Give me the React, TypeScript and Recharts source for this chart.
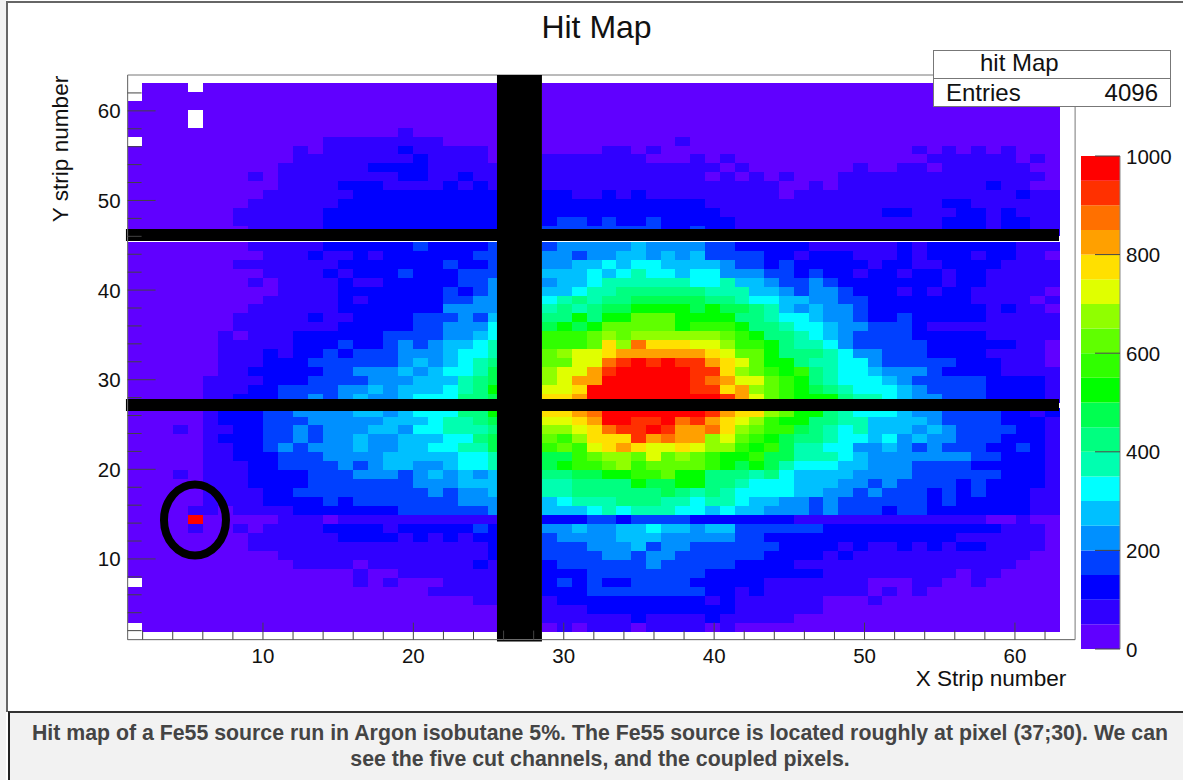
import React from "react";
import {
  Bar,
  BarChart,
  Label,
  ReferenceArea,
  ReferenceDot,
  Scatter,
  ScatterChart,
  XAxis,
  YAxis,
} from "recharts";

// Hit levels per strip, one char per column (0-9, a-j = 50-wide z bins, "." = empty).
// Columns 1-25 | 26-27 (cut) | 28-62, rows run from the top of each panel downwards.
const ROWS_TOP = [
  ".000. 00000 00000 00000 00000 .. 00000 00000 00000 00000 00000 00000 00000",
  ".0000 00000 00000 00000 00000 .. 00000 00000 00000 00000 00000 00000 00000",
  "00000 00000 00000 00000 00000 .. 00000 00000 00000 00000 00000 00000 00000",
  "0000. 00000 00000 00000 00000 .. 00000 00000 00000 00000 00000 00000 00000",
  "0000. 00000 00000 00000 00000 .. 00000 00000 00000 00000 00000 00000 00000",
  "00000 00000 00000 00010 00000 .. 00000 00000 00000 00000 00000 00000 00000",
  ".0000 00000 00011 11111 10000 .. 00000 00001 00000 00000 00000 00000 00000",
  "00000 00000 01011 11121 11110 .. 00001 10100 00000 00000 00000 10101 01000",
  "00000 00000 01111 11112 11110 .. 11111 11000 10100 00000 00000 01111 11010",
  "00000 00000 11111 12222 11111 .. 11111 11111 11010 00000 01001 10111 11100",
  "00000 00010 11111 11122 11211 .. 11111 11111 10101 01000 11111 11111 11110",
  "00000 00000 11112 22111 12121 .. 11111 11111 11111 10010 11111 11111 21100",
  "00000 00001 11111 22222 22222 .. 22112 12111 11111 10111 11111 11111 11211",
  "00000 00011 11112 22222 22222 .. 22222 22222 21111 11111 11111 11221 11111",
  "00000 00111 11122 22222 22222 .. 22222 22222 22111 11111 11122 11122 12111",
  "00000 00111 11122 22222 22222 .. 23323 22322 22211 11111 11111 11222 12211",
  "00000 00011 11122 22222 22222 .. 33333 33322 32211 11111 11111 11222 12211",
];

const ROWS_MIDDLE = [
  "..... ..... ..... ..... ..... .. ..... ..... ..... ..... ..... ..... .....",
  "00000 00011 11122 22223 22223 .. 34444 45444 43322 22211 11112 12222 22111",
  "00000 00001 11211 21222 22233 .. 44344 55454 53333 22122 21112 12221 22110",
  "00000 00111 11112 22222 23223 .. 44556 56655 55433 23222 22122 11222 21111",
  "00000 00001 11121 22232 22333 .. 55565 67665 66444 33232 21221 22122 11111",
  "00000 00010 11112 11222 22334 .. 45567 77777 66755 43343 22222 22122 11111",
  "00000 00000 11112 22222 23234 .. 55677 88888 87775 54344 32221 21221 11110",
  "00000 00001 11112 12222 23344 .. 67878 89999 98876 65544 33222 22221 11101",
  "00000 00011 11112 22222 24444 .. 78789 9aaaa 9a998 75454 43222 22222 12110",
  "00000 00111 11211 22223 33435 .. 88a8a accca aaa88 76654 43223 22222 11111",
  "00000 00111 11112 22223 34446 .. 9a9ac cccca bbba8 87665 44333 21111 11111",
  "00000 01011 12222 22333 34456 .. bbbcd cdddd ddcba 88765 43333 22222 11111",
  "00000 01111 12223 22343 45567 .. bbbcf dhfff eedbb a8776 43333 32222 22110",
  "00000 01112 12232 33344 45667 .. cdeef ggggg gfecc a8887 64433 32222 11110",
  "00000 01112 22333 33345 45678 .. cceeh ijiji igfec aa877 66433 33322 21110",
  "00000 01122 22233 44454 56679 .. deegi jjjjj iifdc bab87 66544 43222 21111",
  "00000 11112 22333 34445 55789 .. deggj jjjjj ihgee cba87 66654 33333 22221",
  "00000 11122 33334 45455 5678a .. eefjj jjjjj iifgd cba98 76665 43333 22221",
  "00000 11222 33434 54456 66889 .. ffgjj jjjjj jjige cbaaa 87765 44333 22221",
];

const ROWS_BOTTOM = [
  "00000 12223 34444 55456 6688a .. ffghj jjjjj jigff dcaa8 76665 44333 32212",
  "00000 12223 33444 44555 67789 .. eefgj jiijh igfed baa88 77555 54333 32221",
  "00010 11223 34344 45546 67778 .. ddefh iijig ghfdc bb987 67555 45433 33221",
  "00000 12223 34344 54455 56689 .. cbdff fighg gdecb a9887 66564 54433 32221",
  "00000 11223 43444 54455 66779 .. bcbef gfeef eddba b9776 64454 34333 22321",
  "00000 11222 33344 44555 55667 .. 99bcd dcecd cbaab 99777 65444 44443 32221",
  "00000 11122 33334 34554 45667 .. 9abbc dbccc cba9a 97666 55444 33332 22221",
  "00010 11122 22333 44434 54545 .. 8899a abbca a8887 86555 54444 33333 32221",
  "00000 11122 22333 33334 44555 .. 77888 8a99a a8876 66555 44343 33323 22221",
  "00000 11112 23333 33333 43445 .. 77888 88898 78766 66554 43433 32323 22211",
  "00000 11112 22232 33333 33444 .. 56777 88877 67765 54434 33333 32322 22211",
  "00001 10111 12222 22233 33334 .. 55567 67776 65655 44434 33323 32222 22211",
  "0000j 00000 11101 11111 11111 .. 22233 23333 22222 22111 11111 11111 00100",
  "00001 00101 11122 22122 22232 .. 44544 55655 45533 33332 22222 22222 21110",
  "00000 00011 11112 22212 12122 .. 34444 55544 44433 22222 22222 22211 11110",
  "00000 00011 11111 11111 11112 .. 33344 45344 33333 32222 12112 12122 11110",
  "00000 00000 11111 11111 11112 .. 33334 43443 33333 22221 21111 11111 11100",
  "00000 00000 01111 01111 11121 .. 23333 33433 33322 22111 11111 11111 11000",
  "00000 00000 00000 10011 11111 .. 22233 33333 32222 22221 11111 11101 10000",
  ".0000 00000 00000 10100 01111 .. 23232 23333 22222 11111 11000 11001 00000",
  "00000 00000 00000 00000 11111 .. 22233 33333 32212 11111 11010 10000 00000",
  "00000 00000 00000 00000 00011 .. 12222 22222 21211 11110 00100 00000 00000",
  "00000 00000 00000 00000 00000 .. 11122 22222 22211 11110 00000 00000 00000",
  "00000 00000 00000 00000 00000 .. 11111 12111 12111 11000 00000 00000 00000",
  ".0000 00000 00000 00000 00000 .. 01011 10111 10100 00000 00000 00000 00000",
];

const PALETTE = [
  "#6000ff", "#3000ff", "#0000ff", "#0040ff", "#0090ff",
  "#00c0ff", "#00ffff", "#00ffb0", "#00ff80", "#00ff50",
  "#00ff00", "#30ff00", "#60ff00", "#90ff00", "#e0ff00",
  "#ffe000", "#ffa000", "#ff7000", "#ff3000", "#ff0000",
];

const X_TICKS = [
  2, 4, 6, 8, 10, 12, 14, 16, 18, 20, 22, 24, 26, 28, 30, 32, 34, 36, 38, 40,
  42, 44, 46, 48, 50, 52, 54, 56, 58, 60, 62,
];
const Y_TICKS = [
  2, 4, 6, 8, 10, 12, 14, 16, 18, 20, 22, 24, 26, 28, 30, 32, 34, 36, 38, 40,
  42, 44, 46, 48, 50, 52, 54, 56, 58, 60, 62,
];
const Z_TICKS = [0, 200, 400, 600, 800, 1000];
const Z_STEP = 50;
const AXIS_CORNERS = [
  { x: 1, y: 1 },
  { x: 64, y: 64 },
];

const PLOT_LEFT = 127.6;
const PLOT_TOP = 75;
const PLOT_W = 947.5;
const PLOT_H = 564.6;
const UNIT_X = PLOT_W / 63;
const UNIT_Y = PLOT_H / 63;
const CHART_W = 1183;
const CHART_H = 780;
const AXIS_X_H = 50;
const AXIS_Y_W = 70;
// the strips right of the cut are slightly narrower in the picture
const RIGHT_COL_SCALE = 0.983;

const FONT = '"Liberation Sans", Arial, sans-serif';

type Cell = { x: number; y: number; col: number; hits: number };

function colCenter(col: number) {
  if (col <= 27) return col + 0.5;
  return 63 - (62 - col) * RIGHT_COL_SCALE - RIGHT_COL_SCALE / 2;
}

function panelCells(rows: string[], firstRow: number, rowShift: number): Cell[] {
  const out: Cell[] = [];
  rows.forEach((text, i) => {
    const chars = text.replace(/ /g, "");
    for (let c = 0; c < chars.length; c++) {
      if (chars[c] === ".") continue;
      out.push({
        x: colCenter(c + 1),
        y: firstRow - i + 0.5 + rowShift,
        col: c + 1,
        hits: parseInt(chars[c], 20) * Z_STEP + 25,
      });
    }
  });
  return out;
}

const cells: Cell[] = [
  ...panelCells(ROWS_TOP, 62, 0.11),
  ...panelCells(ROWS_MIDDLE, 45, 0.37),
  ...panelCells(ROWS_BOTTOM, 26, -0.13),
];

const zRow: Record<string, number | string> = { name: "z" };
PALETTE.forEach((_, i) => {
  zRow["z" + i] = Z_STEP;
});
const zData = [zRow];

function HitCell(props: any) {
  const { cx, cy, payload } = props;
  const w = (payload.col <= 27 ? UNIT_X : UNIT_X * RIGHT_COL_SCALE) + 0.4;
  const h = UNIT_Y + 0.4;
  return (
    <rect
      x={cx - w / 2}
      y={cy - h / 2}
      width={w}
      height={h}
      shapeRendering="crispEdges"
      fill={PALETTE[Math.floor(payload.hits / Z_STEP)]}
    />
  );
}

function XTick({ x, y, payload }: any) {
  const major = payload.value % 10 === 0;
  return (
    <g>
      <line x1={x} x2={x} y1={y} y2={y - (major ? 17 : 9)} stroke="#444" />
      {major && (
        <text x={x} y={y + 23} textAnchor="middle" fontSize={20.5} fontFamily={FONT} fill="#111">
          {payload.value}
        </text>
      )}
    </g>
  );
}

function YTick({ x, y, payload }: any) {
  const major = payload.value % 10 === 0;
  return (
    <g>
      <line x1={x} x2={x + (major ? 28 : 14)} y1={y} y2={y} stroke="#444" />
      {major && (
        <text x={x - 7} y={y + 7.5} textAnchor="end" fontSize={20.5} fontFamily={FONT} fill="#111">
          {payload.value}
        </text>
      )}
    </g>
  );
}

function ZTick({ x, y, payload }: any) {
  return (
    <g>
      <line x1={x - 25} x2={x} y1={y} y2={y} stroke="#444" />
      <text x={x + 6} y={y + 7.5} textAnchor="start" fontSize={20.5} fontFamily={FONT} fill="#111">
        {payload.value}
      </text>
    </g>
  );
}

function CircledPixel({ cx, cy }: any) {
  return <ellipse cx={cx} cy={cy} rx={31} ry={35.5} fill="none" stroke="#000" strokeWidth={8} />;
}

function XTitle() {
  return (
    <text x={991} y={686} textAnchor="middle" fontSize={22.6} fontFamily={FONT} fill="#111">
      X Strip number
    </text>
  );
}

function YTitle() {
  return (
    <text
      transform="translate(68 149) rotate(-90)"
      textAnchor="middle"
      fontSize={22.6}
      fontFamily={FONT}
      fill="#111"
    >
      Y strip number
    </text>
  );
}

// cells only; the axes, frame and cut channels sit on a second chart above them
function HitCells() {
  return (
    <ScatterChart
      width={CHART_W}
      height={CHART_H}
      margin={{
        left: PLOT_LEFT,
        top: PLOT_TOP,
        right: CHART_W - PLOT_LEFT - PLOT_W,
        bottom: CHART_H - PLOT_TOP - PLOT_H,
      }}
    >
      <XAxis type="number" dataKey="x" domain={[1, 64]} hide />
      <YAxis type="number" dataKey="y" domain={[1, 64]} hide />
      <Scatter data={cells} shape={<HitCell />} isAnimationActive={false} />
    </ScatterChart>
  );
}

function HitFrame() {
  return (
    <ScatterChart
      width={CHART_W}
      height={CHART_H}
      margin={{
        left: PLOT_LEFT - AXIS_Y_W,
        top: PLOT_TOP,
        right: CHART_W - PLOT_LEFT - PLOT_W,
        bottom: CHART_H - PLOT_TOP - PLOT_H - AXIS_X_H,
      }}
    >
      <XAxis
        type="number"
        dataKey="x"
        domain={[1, 64]}
        ticks={X_TICKS}
        interval={0}
        height={AXIS_X_H}
        stroke="#777"
        tickSize={0}
        tickMargin={0}
        tick={<XTick />}
      >
        <Label content={<XTitle />} />
      </XAxis>
      <YAxis
        type="number"
        dataKey="y"
        domain={[1, 64]}
        ticks={Y_TICKS}
        interval={0}
        width={AXIS_Y_W}
        stroke="#777"
        tickSize={0}
        tickMargin={0}
        tick={<YTick />}
      >
        <Label content={<YTitle />} />
      </YAxis>
      <Scatter data={AXIS_CORNERS} shape={() => <g />} isAnimationActive={false} />
      <ReferenceArea x1={1} x2={64} y1={1} y2={64} fill="none" stroke="#777" strokeOpacity={1} />
      {/* the five cut channels, blacked out by hand in the original */}
      <ReferenceArea x1={25.56} x2={28.55} y1={0.8} y2={64} fill="#000" fillOpacity={1} ifOverflow="visible" />
      <ReferenceArea x1={0.89} x2={62.93} y1={45.49} y2={46.83} fill="#000" fillOpacity={1} ifOverflow="visible" />
      <ReferenceArea x1={0.89} x2={62.93} y1={26.51} y2={27.85} fill="#000" fillOpacity={1} ifOverflow="visible" />
      <ReferenceDot x={5.48} y={14.35} r={30} shape={<CircledPixel />} />
    </ScatterChart>
  );
}

function ZScale() {
  return (
    <BarChart
      width={113}
      height={540}
      data={zData}
      barCategoryGap={0}
      margin={{ left: 11, right: 0, top: 26, bottom: 540 - 26 - 493 }}
    >
      <XAxis dataKey="name" hide />
      <YAxis
        orientation="right"
        type="number"
        domain={[0, 1000]}
        ticks={Z_TICKS}
        interval={0}
        width={63}
        stroke="#888"
        tickSize={0}
        tickMargin={0}
        tick={<ZTick />}
      />
      {PALETTE.map((color, i) => (
        <Bar key={color} dataKey={"z" + i} stackId="z" fill={color} isAnimationActive={false} />
      ))}
    </BarChart>
  );
}

export default function App() {
  const text: React.CSSProperties = { position: "absolute", fontFamily: FONT, color: "#111", whiteSpace: "nowrap" };
  const layer: React.CSSProperties = { position: "absolute", left: 0, top: 0 };
  return (
    <div style={{ position: "absolute", left: 0, top: 0, width: 1183, height: 780, background: "#fff", overflow: "hidden" }}>
      <div style={{ position: "absolute", left: 0, top: 0, width: 6, height: 780, background: "#f2f2f2" }} />
      <div style={{ position: "absolute", left: 6, top: 1, width: 1177, height: 2, background: "#666" }} />
      <div style={{ position: "absolute", left: 6, top: 1, width: 2, height: 711, background: "#666" }} />

      <div style={layer}>
        <HitCells />
      </div>
      <div style={layer}>
        <HitFrame />
      </div>
      <div style={{ position: "absolute", left: 1070, top: 130 }}>
        <ZScale />
      </div>

      <div style={{ ...text, left: 0, top: 8, width: 1193, textAlign: "center", fontSize: 32, lineHeight: "38px" }}>Hit Map</div>

      <div style={{ position: "absolute", left: 933, top: 50, width: 236, height: 55, background: "#fff", border: "1px solid #777" }}>
        <div style={{ position: "absolute", left: 0, top: 27, width: 236, height: 1, background: "#777" }} />
      </div>
      <div style={{ ...text, left: 980, top: 49, fontSize: 24, lineHeight: "28px" }}>hit Map</div>
      <div style={{ ...text, left: 946, top: 79, fontSize: 24, lineHeight: "28px" }}>Entries</div>
      <div style={{ ...text, right: 25, top: 79, fontSize: 24, lineHeight: "28px" }}>4096</div>

      <div
        style={{
          position: "absolute",
          left: 8,
          top: 711,
          width: 1175,
          height: 69,
          boxSizing: "border-box",
          background: "#f2f2f2",
          borderTop: "2px solid #333",
          borderLeft: "2px solid #222",
          paddingTop: 7,
          paddingLeft: 7,
          textAlign: "center",
          fontFamily: FONT,
          fontWeight: "bold",
          fontSize: 21.3,
          lineHeight: "26px",
          color: "#444",
          whiteSpace: "nowrap",
        }}
      >
        Hit map of a Fe55 source run in Argon isobutane 5%. The Fe55 source is located roughly at pixel (37;30). We can
        <br />
        see the five cut channels, and the coupled pixels.
      </div>
    </div>
  );
}
